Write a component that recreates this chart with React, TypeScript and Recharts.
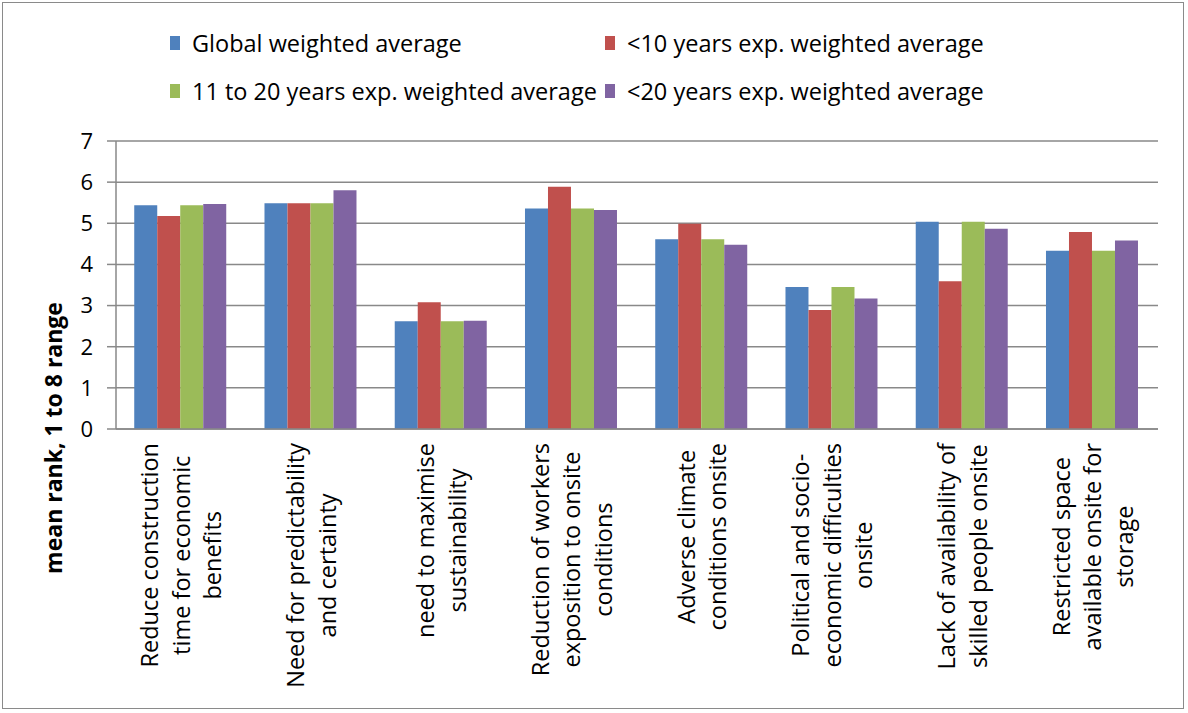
import React from 'react';
import { BarChart, Bar, XAxis, YAxis, CartesianGrid, Label } from 'recharts';

const categories = [
  'Reduce construction\ntime for economic\nbenefits',
  'Need for predictability\nand certainty',
  'need to maximise\nsustainability',
  'Reduction of workers\nexposition to onsite\nconditions',
  'Adverse climate\nconditions onsite',
  'Political and socio-\neconomic difficulties\nonsite',
  'Lack of availability of\nskilled people onsite',
  'Restricted space\navailable onsite for\nstorage',
];

const globalAvg = [5.44, 5.49, 2.62, 5.36, 4.61, 3.45, 5.04, 4.33];
const under10 = [5.18, 5.49, 3.08, 5.89, 4.99, 2.89, 3.59, 4.79];
const from11to20 = [5.44, 5.49, 2.62, 5.36, 4.61, 3.45, 5.04, 4.33];
const over20 = [5.47, 5.8, 2.63, 5.32, 4.48, 3.17, 4.87, 4.58];

const yTicks = [0, 1, 2, 3, 4, 5, 6, 7];
const boundaryTicks = [0, 1, 2, 3, 4, 5, 6, 7, 8];

const series = [
  { key: 'global', name: 'Global weighted average', color: '#4F81BD' },
  { key: 'under10', name: '<10 years exp. weighted average', color: '#C0504D' },
  { key: 'mid', name: '11 to 20 years exp. weighted average', color: '#9BBB59' },
  { key: 'over20', name: '<20 years exp. weighted average', color: '#8064A2' },
];

const data = categories.map((c, i) => ({
  name: c,
  global: globalAvg[i],
  under10: under10[i],
  mid: from11to20[i],
  over20: over20[i],
}));

const FONT = '"Open Sans", sans-serif';
const GRID = '#898989';
const TICK_SIZE = 23.5;

let ctx: CanvasRenderingContext2D | null = null;
const measure = (s: string, size: number) => {
  if (!ctx) ctx = document.createElement('canvas').getContext('2d');
  if (!ctx) return s.length * size * 0.55;
  ctx.font = `${size}px "Open Sans"`;
  return ctx.measureText(s).width;
};

// rotated, multi-line category label, top aligned under the axis
const CategoryTick = ({ x, y, payload }: any) => {
  const lines: string[] = String(payload.value).split('\n');
  const block = Math.max(...lines.map((l) => measure(l, TICK_SIZE)));
  const lh = 31.5;
  const n = lines.length;
  return (
    <g transform={`translate(${x},${y + 6})`}>
      {lines.map((ln, i) => (
        <text
          key={i}
          transform="rotate(-90)"
          x={-block / 2}
          y={(i - (n - 1) / 2) * lh}
          dy="0.36em"
          textAnchor="middle"
          fontSize={TICK_SIZE}
          fontFamily={FONT}
          fill="#000"
        >
          {ln}
        </text>
      ))}
    </g>
  );
};

const LegendBox = () => (
  <div
    style={{
      position: 'absolute',
      left: 170,
      top: 28,
      display: 'grid',
      gridTemplateColumns: '435px 450px',
      rowGap: 18,
      fontFamily: FONT,
      fontSize: 23.5,
      color: '#000',
      whiteSpace: 'nowrap',
    }}
  >
    {series.map((s) => (
      <div key={s.key} style={{ display: 'flex', alignItems: 'center', height: 30 }}>
        <span style={{ width: 10, height: 14, background: s.color, marginRight: 12, display: 'inline-block' }} />
        <span>{s.name}</span>
      </div>
    ))}
  </div>
);

export default function App() {
  return (
    <div style={{ position: 'relative', width: 1188, height: 713, background: '#fff' }}>
      <style>{'body{margin:0}'}</style>
      <div
        style={{
          position: 'absolute',
          left: 2,
          top: 2,
          width: 1180,
          height: 705,
          border: '1.5px solid #8a8a8a',
          pointerEvents: 'none',
        }}
      />
      <LegendBox />
      <BarChart
        width={1188}
        height={713}
        data={data}
        margin={{ top: 141, right: 30, left: 56, bottom: 0 }}
        barCategoryGap="14%"
        barGap={0}
      >
        <CartesianGrid vertical={false} stroke={GRID} strokeWidth={1.5} />
        <XAxis
          xAxisId="cat"
          dataKey="name"
          height={284}
          axisLine={{ stroke: GRID, strokeWidth: 1.5 }}
          tickLine={false}
          tick={<CategoryTick />}
          interval={0}
        />
        <XAxis
          xAxisId="edge"
          type="number"
          domain={[0, 8]}
          ticks={boundaryTicks}
          axisLine={false}
          tickLine={{ stroke: GRID, strokeWidth: 1.5 }}
          tickSize={8}
          tick={false}
          height={0}
        />
        <YAxis
          width={60}
          domain={[0, 7]}
          ticks={yTicks}
          interval={0}
          axisLine={{ stroke: GRID, strokeWidth: 1.5 }}
          tickLine={{ stroke: GRID, strokeWidth: 1.5 }}
          tickSize={9}
          tickMargin={14}
          tick={{ fontSize: 22, fontFamily: FONT, fill: '#000' }}
        >
          <Label
            content={() => (
              <text
                x={53}
                y={438}
                transform="rotate(-90, 53, 438)"
                textAnchor="middle"
                dominantBaseline="central"
                fontSize={23}
                fontWeight="bold"
                fontFamily={FONT}
                fill="#000"
              >
                mean rank, 1 to 8 range
              </text>
            )}
          />
        </YAxis>
        {series.map((s) => (
          <Bar
            key={s.key}
            xAxisId="cat"
            dataKey={s.key}
            name={s.name}
            fill={s.color}
            isAnimationActive={false}
          />
        ))}
      </BarChart>
    </div>
  );
}
